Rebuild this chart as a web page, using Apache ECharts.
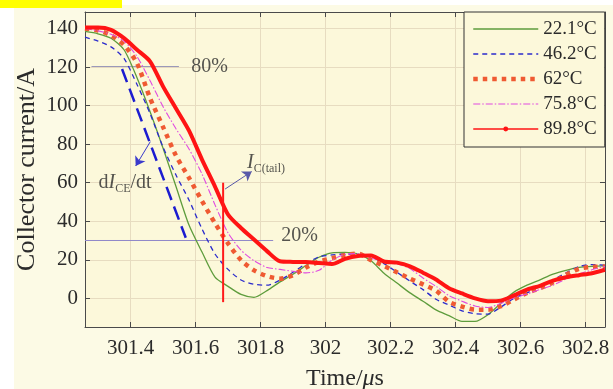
<!DOCTYPE html>
<html>
<head>
<meta charset="utf-8">
<script src="https://cdn.jsdelivr.net/npm/echarts@6/dist/echarts.min.js"></script>
<style>
html, body { margin: 0; padding: 0; background: #fff; }
#chart { width: 613px; height: 389px; }
</style>
</head>
<body>
<div id="chart"></div>
<script>
// time axis (us) and collector current (A)
const TIME = [301.26, 301.30, 301.34, 301.38, 301.42, 301.46, 301.50, 301.54, 301.58, 301.62,
  301.66, 301.70, 301.74, 301.78, 301.82, 301.86, 301.90, 301.94, 301.98, 302.02,
  302.06, 302.10, 302.14, 302.18, 302.22, 302.26, 302.30, 302.34, 302.38, 302.42,
  302.46, 302.50, 302.54, 302.58, 302.62, 302.66, 302.70, 302.74, 302.78, 302.82, 302.86];

const I_22 = [138.5, 137.3, 135, 129, 114.5, 97, 78, 58, 38, 24,
  11, 6.2, 2, 0.5, 4, 8.5, 12.5, 17, 21.3, 23.6,
  23.8, 23, 19.5, 13, 7.9, 2.8, -1.5, -6, -9, -12,
  -12, -8.5, -2.5, 3.2, 6.8, 9.6, 12.5, 14.5, 16, 16.6, 16.8];
const I_46 = [135.5, 133.5, 130.5, 124.5, 111, 96, 78.5, 64, 51, 36,
  23, 15, 9.5, 7.3, 6.8, 9.4, 13.5, 18, 21.5, 22.5,
  23, 22.6, 21.5, 18, 13.5, 8.9, 4.5, -0.5, -3.5, -6.5,
  -8, -8.2, -4.5, 0, 2.8, 6.2, 9.5, 13.2, 16.5, 17.5, 17.2];
const I_62 = [140, 139, 136.5, 131.5, 122, 104, 89, 74, 62.5, 50.5,
  39, 28.5, 19.8, 14.5, 11.5, 10.2, 12, 16, 19, 20.8,
  22.4, 23.2, 19.8, 16.8, 13.5, 10.2, 7.2, 4, -1.8, -4.3,
  -5.9, -5.9, -4.1, -0.6, 2.8, 5.3, 8.2, 12.2, 15.3, 16.3, 16.5];
const I_75 = [140, 138.8, 137, 133.5, 125.5, 113, 99.5, 88, 77.5, 64.5,
  48.5, 34, 25, 19.5, 16, 15, 14, 13.2, 14.5, 19.8,
  22.8, 23.2, 20.8, 19.5, 18, 15.4, 10.5, 6.2, 1.4, -1.5,
  -4, -4.8, -2.6, 0.3, 2.2, 4.6, 6.8, 10, 12.6, 14.8, 16.5];
const I_89 = [140.5, 140.5, 139.3, 135, 129, 123, 110, 98.5, 87, 72,
  58, 43.5, 36.5, 30.5, 24.5, 19.2, 18.9, 18.8, 18.3, 17.8,
  20.5, 22, 22.2, 19.1, 18.5, 16.6, 13.3, 9.8, 5.2, 2.5,
  0, -1.5, -1.2, 1.5, 4.5, 6.5, 9.2, 10.9, 12, 13, 14.8];

const NAMES = ['22.1°C', '46.2°C', '62°C', '75.8°C', '89.8°C'];
const X_TICKS = [301.4, 301.6, 301.8, 302, 302.2, 302.4, 302.6, 302.8];
const Y_TICKS = [0, 20, 40, 60, 80, 100, 120, 140];

// annotation lines, in data units
const LINE_80 = [[301.28, 120.3], [301.549, 120.3]];
const LINE_20 = [[301.26, 30], [301.839, 30]];
const DIDT_LINE = [[301.374, 119], [301.57, 31.4]];
const TAIL_LINE = [[301.685, 60], [301.685, -2]];
const DIDT_ARROW = [[301.461, 81.3], [301.416, 68.7]];
const TAIL_ARROW = [[301.691, 56.7], [301.773, 65.8]];
const TXT_80 = [301.585, 120.3];
const TXT_20 = [301.862, 32.5];
const TXT_DIDT = [301.30, 60];
const TXT_TAIL = [301.757, 70.3];

const SERIF = 'Liberation Serif, Times New Roman, serif';
const TXT = '#2b2b2b';
const GRID_C = '#e7dcc0';
const AX_C = '#4a4a4a';

const COLORS = ['#5e9c3c', '#2b2bcc', '#ef5a32', '#e04ae0', '#ff1414'];
const WIDTHS = [1.3, 1.3, 4.5, 1.1, 4];
const DASHES = ['solid', [5, 4], [4.5, 5], [7, 2, 1.5, 2], 'solid'];

function pairs(vals) { return TIME.map((t, i) => [t, vals[i]]); }

var chart = echarts.init(document.getElementById('chart'));

function curve(k, vals, extra) {
  return Object.assign({
    name: NAMES[k],
    type: 'line',
    data: pairs(vals),
    smooth: 0.25,
    symbol: 'none',
    silent: true,
    lineStyle: { color: COLORS[k], width: WIDTHS[k], type: DASHES[k], cap: 'butt' },
    itemStyle: { color: COLORS[k] }
  }, extra || {});
}

function straight(points, color, width, type) {
  return {
    type: 'line', data: points, symbol: 'none', silent: true, z: 3,
    lineStyle: { color: color, width: width, type: type || 'solid' }
  };
}

function arrow(points, color) {
  return {
    type: 'lines', coordinateSystem: 'cartesian2d', polyline: false, silent: true, z: 4,
    symbol: ['none', 'arrow'], symbolSize: 9,
    lineStyle: { color: color, width: 1, opacity: 1 },
    data: [{ coords: points }]
  };
}

function textAt(pos, text, rich) {
  return {
    type: 'scatter', data: [pos], symbolSize: 1, silent: true, z: 5,
    itemStyle: { color: 'rgba(0,0,0,0)' },
    label: {
      show: true, position: 'right', distance: 0, formatter: text,
      fontFamily: SERIF, fontSize: 20, color: TXT, rich: rich || {}
    }
  };
}

const subRich = {
  n: { fontFamily: SERIF, fontSize: 20, color: TXT, lineHeight: 24 },
  i: { fontFamily: SERIF, fontSize: 20, color: TXT, fontStyle: 'italic', lineHeight: 24 },
  s: { fontFamily: SERIF, fontSize: 12, color: TXT, lineHeight: 12, verticalAlign: 'bottom' }
};

// legend icons: own line widths, dot only on the last entry
const legendData = NAMES.map((n, k) => ({
  name: n,
  lineStyle: {
    color: COLORS[k],
    width: k === 4 ? 1.3 : WIDTHS[k],
    type: DASHES[k],
    cap: 'butt'
  },
  itemStyle: k === 4 ? { color: COLORS[k], opacity: 1 } : { opacity: 0 }
}));

chart.setOption({
  backgroundColor: '#fcfae5',
  animation: false,
  graphic: [
    { type: 'rect', shape: { x: 0, y: 0, width: 14, height: 389 }, style: { fill: '#ffffff' } },
    { type: 'rect', shape: { x: 0, y: 0, width: 613, height: 5 }, style: { fill: '#ffffff' } },
    { type: 'rect', shape: { x: 0, y: 0, width: 122, height: 8 }, style: { fill: '#ffff00' } }
  ],
  grid: {
    left: 85, right: 8, top: 12, bottom: 62,
    outerBoundsMode: 'none',
    show: true, backgroundColor: '#fcf8da', borderWidth: 0
  },
  legend: {
    data: legendData,
    orient: 'vertical',
    left: 464, top: 12,
    padding: [7, 8, 8, 7],
    itemGap: 5,
    itemWidth: 65,
    itemHeight: 6,
    backgroundColor: '#fcf8da',
    borderColor: '#333',
    borderWidth: 1,
    borderRadius: 0,
    selectedMode: false,
    textStyle: { fontFamily: SERIF, fontSize: 19, color: TXT, lineHeight: 20 }
  },
  xAxis: [{
    type: 'value', min: 301.26, max: 302.86, position: 'bottom',
    name: 'Time/{i|μ}s', nameLocation: 'middle', nameGap: 40,
    nameTextStyle: {
      fontFamily: SERIF, fontSize: 24, color: TXT,
      rich: { i: { fontFamily: SERIF, fontSize: 24, color: TXT, fontStyle: 'italic' } }
    },
    axisLine: { show: true, onZero: false, lineStyle: { color: AX_C, width: 1 } },
    axisTick: { show: true, inside: true, length: 5, customValues: X_TICKS, lineStyle: { color: AX_C } },
    axisLabel: {
      customValues: X_TICKS, margin: 11, fontFamily: SERIF, fontSize: 21, color: TXT,
      formatter: v => String(+v.toFixed(1))
    },
    splitLine: { show: true, lineStyle: { color: GRID_C, width: 1 } }
  }, {
    type: 'value', min: 301.26, max: 302.86, position: 'top',
    axisLine: { show: true, onZero: false, lineStyle: { color: AX_C, width: 1 } },
    axisTick: { show: true, inside: true, length: 5, customValues: X_TICKS, lineStyle: { color: AX_C } },
    axisLabel: { show: false },
    splitLine: { show: false }
  }],
  yAxis: [{
    type: 'value', min: -14.9, max: 148.6, position: 'left',
    name: 'Collector current/A', nameLocation: 'middle', nameGap: 45,
    nameMoveOverlap: false,
    nameTextStyle: { fontFamily: SERIF, fontSize: 26, color: TXT },
    axisLine: { show: true, onZero: false, lineStyle: { color: AX_C, width: 1 } },
    axisTick: { show: true, inside: true, length: 5, customValues: Y_TICKS, lineStyle: { color: AX_C } },
    axisLabel: { customValues: Y_TICKS, margin: 7, fontFamily: SERIF, fontSize: 21, color: TXT },
    splitLine: { show: true, lineStyle: { color: GRID_C, width: 1 } }
  }, {
    type: 'value', min: -14.9, max: 148.6, position: 'right',
    axisLine: { show: true, onZero: false, lineStyle: { color: AX_C, width: 1 } },
    axisTick: { show: true, inside: true, length: 5, customValues: Y_TICKS, lineStyle: { color: AX_C } },
    axisLabel: { show: false },
    splitLine: { show: false }
  }],
  series: [
    straight(LINE_80, '#9a98b8', 1),
    straight(LINE_20, '#9088c8', 1),
    curve(0, I_22),
    curve(1, I_46),
    curve(2, I_62),
    curve(3, I_75),
    curve(4, I_89, { symbol: 'circle', showSymbol: false, symbolSize: 4 }),
    straight(DIDT_LINE, '#1c1cd0', 2.5, [14, 7]),
    straight(TAIL_LINE, '#ff1a1a', 2),
    arrow(DIDT_ARROW, '#3a3acc'),
    arrow(TAIL_ARROW, '#5858a8'),
    textAt(TXT_80, '80%'),
    textAt(TXT_20, '20%'),
    textAt(TXT_DIDT, '{n|d}{i|I}{s|CE}{n|/dt}', subRich),
    textAt(TXT_TAIL, '{i|I}{s|C(tail)}', subRich)
  ]
});
</script>
</body>
</html>
